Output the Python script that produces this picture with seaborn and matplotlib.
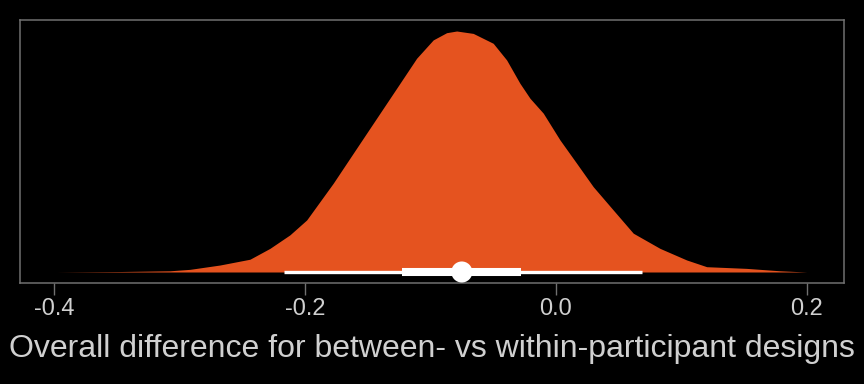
import numpy as np
import pandas as pd
import seaborn as sns
import matplotlib
matplotlib.use('Agg')
import matplotlib.pyplot as plt

# posterior density of the difference (relative height)
diff_x = [-0.3976, -0.3474, -0.3076, -0.2916, -0.2677, -0.2438, -0.2279, -0.2120,
          -0.1986, -0.1775, -0.1615, -0.1456, -0.1243, -0.1110, -0.0978, -0.0871,
          -0.0791, -0.0659, -0.0500, -0.0393, -0.0287, -0.0207, -0.0101, 0.0032,
          0.0165, 0.0297, 0.0457, 0.0616, 0.0829, 0.1041, 0.1201, 0.1520,
          0.1785, 0.2000]
dens = [0.000, 0.002, 0.005, 0.011, 0.029, 0.053, 0.098, 0.154,
        0.216, 0.368, 0.493, 0.617, 0.783, 0.887, 0.963, 0.993,
        1.000, 0.990, 0.949, 0.880, 0.783, 0.721, 0.659, 0.548,
        0.451, 0.354, 0.257, 0.161, 0.098, 0.050, 0.022, 0.015,
        0.005, 0.000]

# point estimate and intervals
point_est = -0.075
inner_ci = [-0.1227, -0.0279]
outer_ci = [-0.2167, 0.0683]

xticks = [-0.4, -0.2, 0.0, 0.2]
xlabel = 'Overall difference for between- vs within-participant designs'

sns.set_style('dark', {'axes.facecolor': 'black', 'figure.facecolor': 'black',
                       'axes.edgecolor': '#707070'})
plt.rcParams['font.family'] = ['Liberation Sans', 'DejaVu Sans']

df = pd.DataFrame({'x': diff_x, 'density': dens})

fig = plt.figure(figsize=(8.64, 3.84), dpi=100)
ax = fig.add_axes([20 / 864, 1 - 283 / 384, 824 / 864, 263 / 384])

ax.fill_between(df['x'], 0, df['density'], color='#E5531F', linewidth=0)
ax.plot(outer_ci, [0, 0], color='white', linewidth=2.4, solid_capstyle='butt')
ax.plot(inner_ci, [0, 0], color='white', linewidth=5.8, solid_capstyle='butt')
sns.scatterplot(x=[point_est], y=[0], color='white', s=230, edgecolor='none', ax=ax, zorder=5)

ax.set_xlim(-0.427, 0.2295)
ax.set_ylim(-11 / 241, 1 + 11 / 241)
ax.set_xticks(xticks)
ax.set_xticklabels(['-0.4', '-0.2', '0.0', '0.2'])
ax.set_yticks([])
ax.tick_params(axis='x', colors='#707070', length=8.5, width=1, pad=2,
               labelsize=17, labelcolor='#D0D0D0', bottom=True)
ax.set_xlabel(xlabel, fontsize=23, color='#D0D0D0', labelpad=10.5)
ax.set_ylabel('')
for s in ax.spines.values():
    s.set_color('#707070')
    s.set_linewidth(1.1)

fig.savefig('out.png', dpi=100, facecolor='black')
